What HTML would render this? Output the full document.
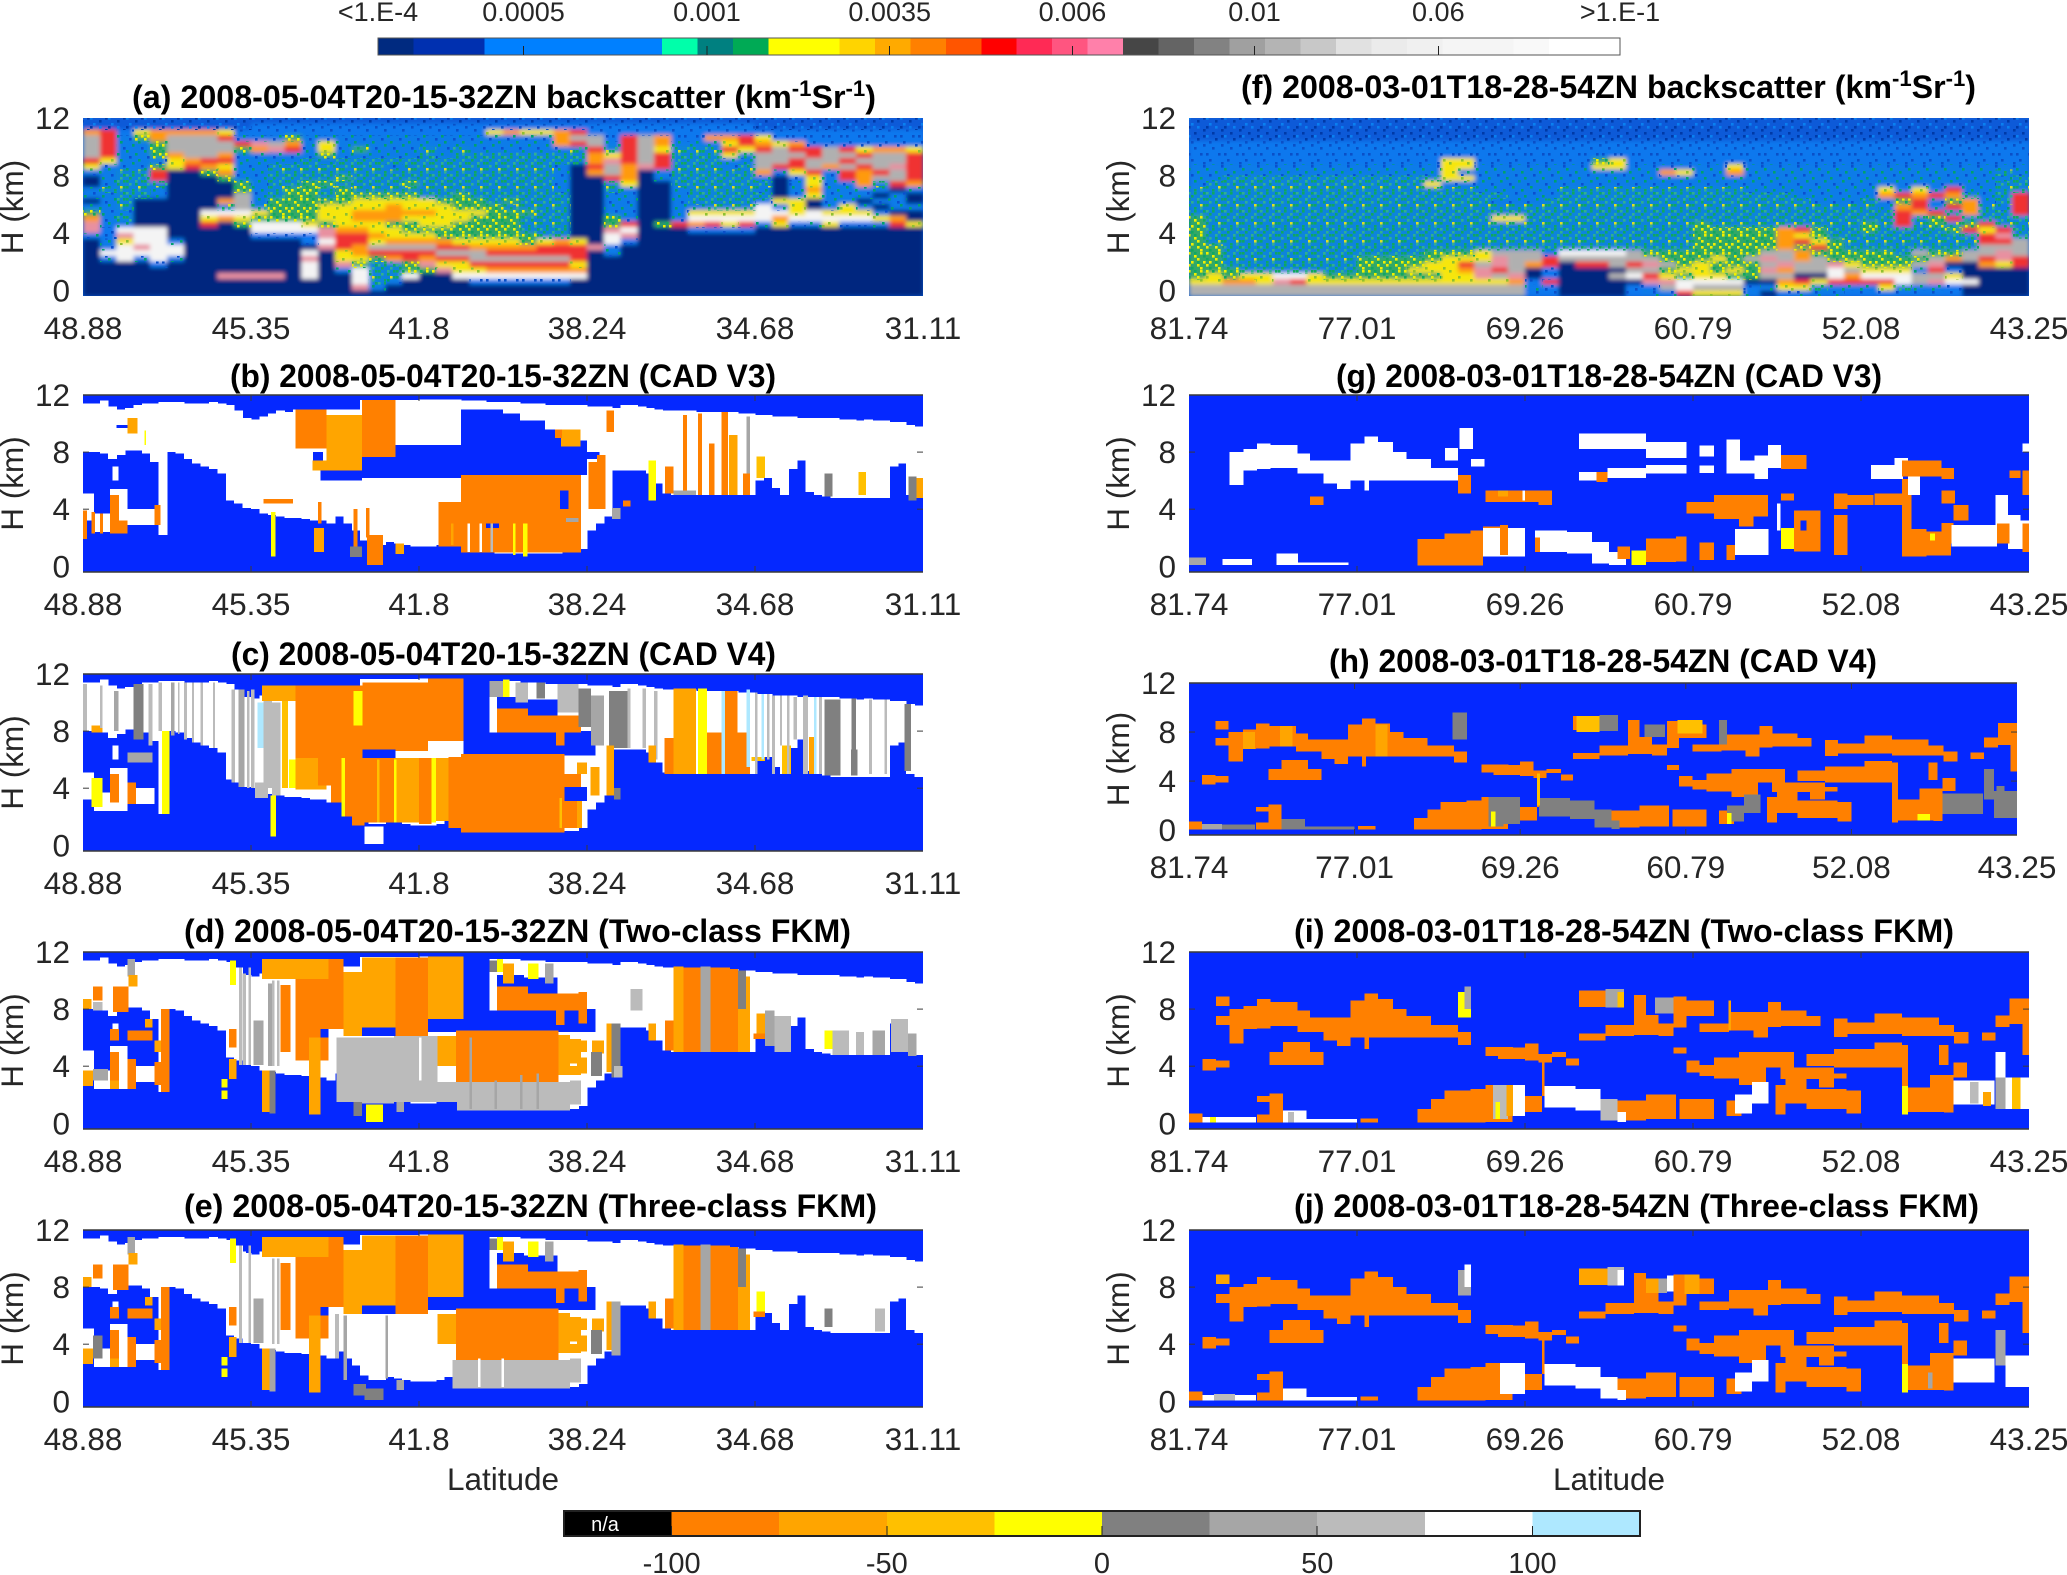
<!DOCTYPE html>
<html lang="en">
<head>
<meta charset="utf-8">
<title>CALIPSO backscatter and cloud-aerosol discrimination panels</title>
<style>
html,body{margin:0;padding:0;background:#fff;}
svg{display:block;font-family:"Liberation Sans",sans-serif;}
.title{font-weight:bold;font-size:32px;fill:#000;}
.tick{font-size:31.5px;fill:#262626;}
.axis{font-size:31.5px;fill:#262626;}
.cb{font-size:27px;fill:#262626;}
.cb2{font-size:29px;fill:#262626;}
</style>
</head>
<body>
<svg id="chart" xmlns="http://www.w3.org/2000/svg" width="2067" height="1575" viewBox="0 0 2067 1575">
<defs id="defs">
<filter id="soft" x="-2%" y="-4%" width="104%" height="108%"><feGaussianBlur stdDeviation="2"/></filter>
</defs>
<rect width="2067" height="1575" fill="#fff"/>
<text class="title" x="132" y="108" textLength="744" lengthAdjust="spacingAndGlyphs">(a) 2008-05-04T20-15-32ZN backscatter (km<tspan font-size="22" dy="-12">-1</tspan><tspan dy="12">Sr</tspan><tspan font-size="22" dy="-12">-1</tspan><tspan dy="12">)</tspan></text>
<text class="title" x="1241" y="98" textLength="735" lengthAdjust="spacingAndGlyphs">(f) 2008-03-01T18-28-54ZN backscatter (km<tspan font-size="22" dy="-12">-1</tspan><tspan dy="12">Sr</tspan><tspan font-size="22" dy="-12">-1</tspan><tspan dy="12">)</tspan></text>
<text class="title" x="230" y="387" textLength="546" lengthAdjust="spacingAndGlyphs">(b) 2008-05-04T20-15-32ZN (CAD V3)</text>
<text class="title" x="231" y="665" textLength="545" lengthAdjust="spacingAndGlyphs">(c) 2008-05-04T20-15-32ZN (CAD V4)</text>
<text class="title" x="184" y="942" textLength="667" lengthAdjust="spacingAndGlyphs">(d) 2008-05-04T20-15-32ZN (Two-class FKM)</text>
<text class="title" x="184" y="1217" textLength="693" lengthAdjust="spacingAndGlyphs">(e) 2008-05-04T20-15-32ZN (Three-class FKM)</text>
<text class="title" x="1336" y="387" textLength="546" lengthAdjust="spacingAndGlyphs">(g) 2008-03-01T18-28-54ZN (CAD V3)</text>
<text class="title" x="1329" y="672" textLength="548" lengthAdjust="spacingAndGlyphs">(h) 2008-03-01T18-28-54ZN (CAD V4)</text>
<text class="title" x="1294" y="942" textLength="660" lengthAdjust="spacingAndGlyphs">(i) 2008-03-01T18-28-54ZN (Two-class FKM)</text>
<text class="title" x="1294" y="1217" textLength="685" lengthAdjust="spacingAndGlyphs">(j) 2008-03-01T18-28-54ZN (Three-class FKM)</text>
<text class="axis" x="503" y="1490" text-anchor="middle">Latitude</text>
<text class="axis" x="1609" y="1490" text-anchor="middle">Latitude</text>
</svg>
<script>
/* ---------- tick labels ---------- */
const leftLatitudes = ['48.88','45.35','41.8','38.24','34.68','31.11'];
const rightLatitudes = ['81.74','77.01','69.26','60.79','52.08','43.25'];
const heightTicks = [0,4,8,12];
const backscatterTickLabels = ['<1.E-4','0.0005','0.001','0.0035','0.006','0.01','0.06','>1.E-1'];
const backscatterTickCells = [0,4.1,9.27,14.42,19.57,24.7,29.88,35];
const backscatterColors = ['#002a80','#0030b0','#0030b0','#0080ff','#0080ff','#0080ff','#0080ff','#0080ff','#00ffaa','#008080','#00aa55','#ffff00','#ffff00','#ffd400','#ffaa00','#ff8000','#ff5500','#ff0000','#ff2a55','#ff5580','#ff80aa','#464646','#646464','#828282','#a0a0a0','#b4b4b4','#c8c8c8','#e1e1e1','#ebebeb','#f0f0f0','#f5f5f5','#f5f5f5','#f9f9f9','#ffffff','#ffffff'];
const cadTicks = [-100,-50,0,50,100];
const cadBins = [-125,-100,-75,-50,-25,0,25,50,75,100];
const cadBinColors = ['#000000','#ff8000','#ffa500','#ffc000','#ffff00','#808080','#a6a6a6','#bbbbbb','#ffffff','#aee8ff'];

/* CAD scores used by the layers (C = clear air, no feature) */
const O=-90,A=-65,B=-35,Y=-10,G=10,H=35,I=65,W=90,L=110,C=null;

/* ---------- left orbit: white feature envelope, km, per 1% of the track ---------- */
const leftCloudTop = [11.4,11.4,11.6,11.2,11,11.1,11.3,11.4,11.4,11.5,11.5,11.5,11.4,11.4,11.4,11.5,11.4,11.3,10.9,10.4,10.3,10.5,10.7,10.9,10.8,11,11,11,11,11,11,11,11,11.65,11.65,11.65,11.65,11.65,11.65,11.65,11.7,11.7,11.7,11.7,11.7,11.6,11.6,11.6,11.5,11.5,11.5,11.5,11.4,11.4,11.4,11.3,11.3,11.3,11.3,11.3,11.2,11.2,11.2,11.1,11.3,11.3,11.2,11.1,11,10.9,10.9,10.9,10.9,10.8,10.8,10.8,10.8,10.8,10.7,10.7,10.6,10.6,10.5,10.5,10.5,10.4,10.4,10.4,10.4,10.4,10.3,10.3,10.2,10.3,10.2,10.2,10.1,10.1,9.9,9.8];
const leftCloudBase = [8,8,7.9,7.5,7.8,8.1,8.1,7.9,7.3,2.2,8,7.9,7.5,7.2,7,6.8,6.5,4.6,4.4,4.1,4,3.7,3.6,3.5,3.4,3.4,3.3,3.2,3.2,3,3.5,3,2.5,1.8,1.5,1.5,1.7,1.6,1.5,1.4,1.4,1.4,1.5,1.7,1.8,2,1.4,1.2,1,0.9,0.9,0.9,0.9,0.9,0.9,0.9,0.9,1,1,1.2,2.5,3,3.5,6.7,6.7,6.7,6.7,6.5,5.8,5.1,5,5,5,5,5,5,5,5,5,5,6,6.2,5.5,5,6.8,7.4,5.2,5,4.9,4.8,4.8,4.8,4.8,4.8,4.8,4.8,7,7.2,5,4.8];
const leftLowCloud = [[0,1.3,3.2,5.1,W],[1.3,3.2,2.4,3.7,W],[3.2,5.3,2.4,5.4,W],[5.3,8.5,2.9,4,W],[3.5,4.2,6,7,W]];

/* layer lists: [track% start, track% end, base km, top km, CAD score] */
const layersB = [
[45,50,6.4,11,C],[50,52,6.4,10.7,C],[52,55,6.4,10.2,C],[55,57,6.4,9.6,C],[57,60,6.4,8.8,C],[60,61.5,7.5,8,C],
[37.2,45,6.2,8.5,C],[33.2,37.2,6.2,7.7,C],[28.3,33.2,6,6.7,C],[27.4,28.6,7,8,C],
[25.3,29,8.25,11,O],[29,33.2,6.7,10.6,A],[27.3,33.2,6.7,7.4,A],[33.2,37.2,7.65,11.65,O],
[45,59.3,0.95,6.4,O],[42.3,45,1.4,4.5,O],[56.8,57.8,4,5.3,C],[48,49.5,2.7,3,C],[57.5,59,3.1,3.4,H],
[45.8,46.1,1,3,W],[47.2,47.5,1,3,W],[48.5,48.8,1,3,I],[51.2,51.5,0.8,3,Y],[52.4,52.9,0.7,3,Y],[43.8,44.1,1.5,3,A],
[60.2,62.2,4,7.3,O],[61.2,62.2,7.3,7.8,O],[62.3,63.2,9.4,10.9,O],[56.9,59.2,8.4,9.6,A],[56.2,57,9,9.6,O],
[64.3,65.2,4.2,4.6,O],[63,64,3.3,4.1,H],[67.3,68.2,4.6,7.4,Y],[69.3,70.3,5.1,7,O],
[71.4,71.9,5,10.6,O],[73.2,73.7,5,10.7,O],[74.5,75.2,5,8.6,O],[76,76.8,5,10.8,O],[76.9,77.9,5,9.2,A],[78.6,79.4,5,6.5,O],[79,79.4,6.5,10.5,H],[70.3,73,5,5.3,H],
[80.2,81.2,6.2,7.7,B],[88.3,89.2,4.9,6.5,G],[92.3,93.2,5,6.6,B],[98.3,99.2,4.6,6.3,G],[99.2,100,4.8,6.2,A],
[5.3,6.5,9.3,10.4,A],[4,5.3,9.7,9.9,C],[7.3,7.5,8.5,9.5,Y],
[3.2,4.3,2.3,5,O],[4.3,5.3,2.3,3.2,O],[0,0.5,1.9,3.9,O],[1,1.4,2.3,3.8,O],[2,2.4,2.3,3.7,O],[8.5,9.2,2.9,4.3,O],
[22.4,22.9,0.7,3.8,Y],[21.5,25,4.4,4.7,O],[27.5,28.7,1,2.7,A],[28,28.4,3,4.5,O],[31.8,33.2,0.65,1.4,G],[33.8,35.7,0.1,2.2,O],[32.2,32.7,1.4,4,O],[33.7,34.1,2,4.1,O],[37.2,38.2,0.85,1.6,A]
];
const layersC = [
[45.3,48.4,6.3,12,C],[48.4,60.5,6.3,7.9,C],[52.5,56.5,9.1,10.2,C],[57.3,61,6.3,8,C],[49.3,52.5,9.6,10.4,C],
[21.3,25.3,10.1,11.2,A],[25.3,33.3,6,11.2,O],[33.3,41.1,6.6,11.4,O],[41.1,45.3,7.3,11.7,O],[32.2,33.3,8.4,10.8,Y],[33.3,37.2,6,6.7,C],
[25.3,29,3.9,6.1,A],[28,29.5,4.2,6.1,O],[29.5,31,3,6.1,O],[31,32,2,6.1,O],[32,33.5,1.4,6.1,O],[33.5,37,1.6,6.1,O],[37,40,1.6,6.1,A],[40,41.5,1.5,6.1,O],[41.5,42,1.6,6.1,Y],
[33.5,35.8,0.1,1.3,W],[30.8,31.2,2,6.1,Y],[35,35.3,1.6,6,B],[37,37.3,1.6,6,Y],
[42,43.5,1.7,6.1,A],[43.5,45,1.2,6.2,O],[45,57.3,0.9,6.4,O],[57.3,59.3,4.1,5,O],[57.3,59.4,1.2,3.1,O],[57.3,60,3.1,4.1,C],[58.8,60,5,5.8,A],[58.8,59.4,1.2,3.1,A],[56.7,57,1.2,3.3,B],
[49.3,53,7.9,9.6,O],[53,59.3,7.9,9.1,O],[56.3,57.3,7,7.9,O],
[48.4,50,10.4,11.5,H],[50,50.8,10.4,11.6,Y],[51.5,53,10,11.4,I],[54,55,10.3,11.4,G],[56.5,59,9.3,11.3,I],[59,60.5,8.3,11,G],[60.5,62,7,10.5,H],
[62.6,64.8,6.8,10.8,G],[64.8,65.2,6.8,11,I],[66.6,67,6.8,11,I],[68,68.4,6,10.8,I],
[70.3,73,5,11,A],[73.2,74.3,5,11,Y],[69.2,70.3,5,7.5,O],[74.3,79.4,5,7.9,O],[76.4,77.9,5,10.8,O],[79,79.4,5.5,10.9,L],[76,76.4,5,10.8,L],[79.6,81.2,5.9,6.2,B],
[88.3,90.2,4.9,10.2,G],[91.4,92.2,4.9,6.7,G],[86.4,87,5,7.6,A],[83.2,84.3,5,7,B],[97.8,98.6,5.2,9.9,G],[67.3,68.2,5.8,7,A],[60.4,61.5,3.5,5.5,A],[62.3,63.2,3.5,7,A],[63.2,64,3.2,4,G],
[80,80.3,5,10.7,I],[80.8,81.1,6,10.6,L],[82,82.4,5,10.5,I],[83.8,84.1,5,10.5,I],[85.7,86.3,5,10.5,I],[87,87.3,5,10.4,L],[91.5,92,6.7,10.3,G],
[81.4,81.7,6,10.6,I],[83,83.2,7,10.5,I],[84.6,85,7.4,10.4,I],[87.6,88,5,10.4,I],[93.6,93.9,5,10.2,I],[95.4,95.7,5,10.2,I],
[9.4,10.3,2.2,8,Y],[1,2.3,2.7,4.7,Y],[3.2,4.3,3,5,O],[5.3,6.3,2.9,4.4,O],[1,2.3,7.9,8.4,A],[5.3,8.3,5.8,6.5,H],[22.3,23,0.6,3.5,Y],
[0,0.5,8,11.3,I],[2,2.3,8.2,11.2,I],[3.7,4.2,8,10.8,H],[6,7.2,7.4,11.3,G],[7.8,8.3,7,11.3,I],[9,9.4,8,11.4,I],[10.5,10.9,7.7,11.4,H],[11.3,11.5,7.8,11.4,I],[12,12.4,7.4,11.4,I],[13,13.2,7.2,11.4,I],[14,14.3,7,11.4,I],[15.5,15.7,6.8,11.4,I],
[18.5,19.2,4.1,10.9,H],[20,20.4,4,10.9,I],[21.5,22.5,4,10.1,I],[20.8,21.5,6.8,10,L],[22.5,23.5,3.5,10,I],[23.7,24.4,4,10.1,B],[24.5,25.3,4,6,Y],[20.5,22,3.3,4.4,I],[17.7,18.1,4.4,10.9,I],[19.5,19.8,4,10.8,I]
];
const fkmShared = [
[45.3,48.4,6.4,12,C],[48.4,60.5,6.4,7.9,C],[52.5,56.5,9.1,10.2,C],[57.3,61,6.4,8,C],[49.3,52.5,9.6,10.4,C],
[21.3,29.2,10.1,11.5,A],[25.3,29.2,4.4,10.1,O],[23.5,24.7,5,9.7,O],[29.2,31,6.6,11.5,O],[31,33.2,6.1,10.6,A],[28.3,29.2,6,6.6,C],
[33.2,37.2,6.7,11.6,A],[33.2,37.2,6.1,6.7,C],[37.2,41.1,6.1,11.6,O],[41.1,45.3,7.3,11.7,A],[41.1,45.3,6.4,7.3,C],
[49.3,53,7.9,9.6,O],[53,59.3,7.9,9.1,O],[56.3,57.3,6.9,7.9,O],
[44.4,56.6,2.8,6.5,O],[56.6,58,3.4,6.2,A],[58,59.3,4.2,5.9,A],[58,59.3,3.4,4,A],[42.2,44.4,4,6.1,A],
[26.9,28.3,0.6,6,A],[21.3,22.2,0.8,3.7,A],[17.4,18.3,3.1,4.5,A],[17.4,18.3,5.3,6.6,O],[17.5,18.2,9.7,11.4,Y],[16.5,17.2,1.7,2.3,Y],[16.5,17.2,2.5,3.1,Y],
[48.4,49.3,10.6,11.4,G],[49.3,50,10.6,11.5,Y],[50,51.3,9.8,11.2,A],[53,54.2,10.1,11.2,Y],[55,56,9.8,11.2,H],[59,60,7,9.2,O],
[70.3,71.5,5,11,A],[71.5,73.5,5,10.9,O],[73.5,74.7,5,11,H],[74.7,77,5,10.9,O],[77,78,5,10.8,O],[78,79.4,5,10.3,A],[78,78.9,8,10.7,G],[69.3,70.3,5.1,7.2,O],[67.3,68.2,5.8,7,A],
[79.8,81.2,5.9,6.3,O],[80.2,81.2,6.3,7.7,A],
[1.2,2.3,8.6,9.6,O],[0,1,8,8.7,A],[3.6,5.4,7.8,9.6,O],[5.3,6.2,10.3,11.5,H],[5.4,6.5,9.6,10.4,A],
[3.2,4.3,5.8,6.6,O],[5.3,8.3,5.8,6.5,O],[7.4,8.3,6.7,7.3,A],[9.3,10.3,2.2,8,O],[8.5,9.3,5,5.8,A],[8.5,9.3,2.7,4.3,O],
[0,1.2,2.6,3.7,A],[3.2,4.3,2.4,5,O],[3.2,4.3,2.4,3,A],[5.3,6.3,2.4,4.5,O],
[60.6,62,4.9,5.8,A],[62.3,63.2,3.6,7,A],[58.8,60,3.5,4.6,A],[58.8,60,5,5.8,A],
[18.6,18.9,4.1,10.9,I],[19.7,20,4.1,10.9,I],[22.5,22.8,4,10,I],[23.1,23.4,4,10,I]
];
const layersD = [
[30.2,33,1.5,6,I],[33,37,1.4,6,I],[37,42.2,1.5,6.1,I],[42.2,44.5,1.5,2.9,I],[44.5,58,0.9,2.9,I],[58,59.3,1.3,3,I],
[46,46.3,1,6,H],[49,49.3,1,3,H],[52,52.3,1,3.4,H],[54,54.3,1,3.5,H],[40,40.3,3,6,W],
[33.7,35.7,0.1,1.3,Y],[37.3,38.2,0.8,1.5,H],[32.2,33.2,0.5,1.5,G],[22.2,22.9,0.7,3.7,G],
[20.3,21.5,4.1,7.2,H],[19,19.4,4.1,10.5,I],[22,22.5,4,9.8,H],[62.9,64,3.2,7,G],[63.2,64.2,3.2,4,I],[60.5,61.8,3.3,5,G],
[65.2,66.6,7.9,9.4,I],[81.2,82.3,5.4,7.9,H],[82.3,84.3,5,7.5,I],[88.3,89.2,5.2,6.5,Y],[89.2,91.2,4.8,6.5,I],[92,93,4.8,6.4,I],[94,95.5,4.8,6.5,H],[96.2,98.2,5,7.3,I],[98.2,99.2,4.7,6.3,H],
[1.2,2.3,7.9,8.5,I],[1.2,3,3,3.8,H]
];
const layersE = [
[44,58,0.9,2.9,I],[58,59.3,1.3,3,I],[33.5,35.8,0.1,0.9,G],[32.2,33.7,0.4,1.2,G],[37.3,38.2,0.8,1.5,H],[22.2,22.9,0.7,3.7,H],
[31,31.4,1.5,6,H],[36,36.3,1.6,6,H],[30,30.5,3,6.1,I],[47,47.3,1,3,W],[49.8,50.1,1,3,W],[20.3,21.5,4.1,7.2,H],[19,19.4,4.1,10.5,W],
[60.5,61.8,3.3,5,G],[62.9,64,3.2,7,H],[65.2,66.6,7.9,9.4,W],[80.2,81.2,6.3,7.7,Y],[88.3,89.2,5.2,6.5,G],[94.3,95.5,4.9,6.5,I],[1.2,2.3,3,4.6,G]
];

/* ---------- right orbit: recurring layers ---------- */
const rightClouds = [
[3.2,4.8,8.2,8.9,O],[3.2,4.8,6.9,7.5,O],[4.8,6.5,5.6,8,O],[6.5,8.1,6.6,8.2,O],[8.1,9.7,6.65,8.7,O],[9.7,12.9,6.8,8.5,O],[12.9,14.4,6.4,7.9,O],[14.4,16,6.4,7.4,O],[16,17.6,5.8,7.4,O],[17.6,19.2,5.4,7.4,O],[19.2,20.9,6,8.6,O],[20.9,22.5,6,9.1,O],[20.9,21.4,5.2,6,O],[22.5,24.3,6,8.7,O],[24.3,25.9,6,8,O],[25.9,28.8,6,7.5,O],[28.8,32,6,6.9,O],[32,33.6,5.5,6.4,O],
[1.6,3.2,3.7,4.5,O],[3.2,4.8,3.9,4.4,O],[9.6,16,4.1,5,O],[11.2,14.4,4.1,5.7,O],
[8.1,9.6,1.5,1.9,O],[9.6,11.2,0.05,2.1,O],[8.1,9.6,0.05,0.6,O],[0,1.6,0.05,0.7,O],[20.4,22.5,0.05,0.35,O],
[27.2,28.8,0.05,1,O],[28.8,30.4,0.05,1.7,O],[30.4,33.5,0.05,2.3,O],[33.5,35.3,0.05,2.4,O],[35.3,38.5,0.1,2.7,O],[40,42,0.8,1.9,O],[42,42.3,1.9,4.4,O],
[35.3,38.6,4.7,5.35,O],[36.8,40,4.5,5.3,O],[40,41.6,4.4,5.6,O],[41.6,43.2,4.25,4.85,O],[43.2,44.9,4.65,5,O],[44.9,46.4,4.05,4.55,O],
[46.4,49.6,5.8,6.3,O],[46.4,49.6,8.15,9.3,O],[49.6,53,6.1,6.9,O],[53,54.4,6.2,9,O],[54.4,55.9,6.2,7.6,O],[55.9,57.7,6.1,7,O],[57.7,59.2,6.7,8.9,O],[59.2,62.5,7.5,8.6,O],
[60.8,64.3,6.4,7,O],[64.3,67.2,6.5,7.8,O],[67.2,68.9,6,7.8,O],[68.9,70.5,6.75,8.5,O],[70.5,73.5,6.8,7.9,O],[73.5,75.2,6.8,7.5,O],[57.7,59.2,4.9,5.3,O],
[59.2,60.8,3.55,4.4,O],[60.8,62.5,3.3,4.1,O],[62.5,65.5,3.15,4.6,O],[65.5,68.7,2.7,5,O],[68.7,70.4,3.9,5,O],[70.4,72,3.9,5,O],
[71,73.5,1.4,3.2,O],[73.5,78.3,1,2.4,O],[78.3,80,0.7,2.3,O],[69.8,71,0.6,2.7,O],[70.4,76.8,3.1,3.9,O],[75,76.8,2.5,3.1,O],[76.8,78.3,3.15,3.5,O],[73.5,80,4,4.85,O],[76.8,84.9,3.9,5.2,O],[81.6,84.9,3.9,5.65,O],
[76.8,78.4,6.05,7.35,O],[78.4,81.6,6.25,7.05,O],[81.6,84.9,6.25,7.7,O],[84.9,89.3,6.1,7.4,O],[89.3,91.1,6.1,6.9,O],[91.1,92.8,5.6,6.4,O],[94.4,96,5.8,6.35,O],[96,97.7,6.75,7.55,O],[97.7,100,6.95,8.75,O],[99.2,100,4.8,7,O],
[84.9,85.6,0.6,5.5,O],[85.6,89.9,0.8,2.5,O],[88.2,89.9,2.5,3.4,O],[89.9,91,0.75,3.4,O],[91,92.6,3.2,4.25,O],[89.3,90.4,4.1,5.5,O],
[51,54.4,0.2,1.6,O],[54.4,58,0.3,2,O],[58.4,62.5,0.3,1.7,O],[64,65.8,0.5,1.6,O]
];
const rightSurface = [[1.6,8,0.05,0.45],[11.2,14,0.05,0.9],[14,20,0.05,0.3],[38,40,0.5,2.7],[42.3,46,1.1,2.6],[46,49,0.9,2.4],[49,51,0.2,1.7],[51,52,0.1,0.8],[65,67,0.7,2],[67,69,1.4,2.9],[91,95.9,1.3,3],[96,97.2,2.5,5],[97.2,100,1,3.2]];

const layersG = [
[4.8,6.5,5.7,8,W],[6.5,8.1,6.7,8.2,W],[8.1,9.7,6.8,8.6,W],[9.7,12.9,6.9,8.5,W],[12.9,14.4,6.5,7.9,W],[14.4,16,6.5,7.4,W],[16,17.6,5.8,7.4,W],[17.6,19.2,5.4,7.4,W],[19.2,20.9,6,8.6,W],[20.9,22.5,6,9.1,W],[20.9,21.4,5.3,6,W],[22.5,24.3,6,8.7,W],[24.3,25.9,6,8,W],[25.9,28.8,6,7.5,W],[28.8,32,6,6.9,W],
[32,33.6,5.1,6.4,O],[14.4,16,4.3,4.9,O],[35.3,43.2,4.5,5.3,O],[36.8,38,4.9,5.3,A],[39.7,40,4.6,5.3,W],[41.6,43.2,4.3,5.1,O],
[32.2,33.8,8.2,9.7,W],[30.5,32,7.4,8.3,W],[33.6,35.2,7,7.5,W],
[46.4,54.4,8.2,9.3,W],[54.4,59.2,7.6,8.7,W],[46.4,48.5,6,6.6,W],[48.5,49.8,5.9,6.6,O],[49.8,54.4,6.2,6.9,W],[54.4,59.2,6.5,7.1,W],
[60.8,62.5,7.7,8.45,W],[60.8,62.5,6.55,7.05,W],[64,65.6,6.5,8.9,W],[65.6,67.3,6.5,7.4,W],[67.3,68.9,6.1,7.75,W],[68.9,70.5,6.9,8.5,W],[70.5,73.5,6.8,7.8,O],
[27.2,28.8,0.05,1.9,O],[28.8,30.4,0.05,1.9,O],[30.4,33.5,0.05,2.3,O],[33.5,35,0.05,2.5,O],[35,37,1,2.8,O],[35,40,0.7,2.7,W],[37,38,0.8,2.9,O],[41.2,45,1,2.5,W],[45,48,0.9,2.4,W],[48,50,0.2,1.7,W],[50,52,0.1,1,W],[41.2,41.8,1,2,O],[51,52.5,0.5,1.4,O],[52.7,54.4,0.1,1.1,Y],[54.4,58,0.3,1.95,O],[58,59.2,0.35,2.1,O],[60.8,62.5,0.45,1.65,O],[64,65,0.45,1.5,O],[65,69,0.8,2.6,W],
[0,2,0.1,0.6,H],[4,7.5,0.1,0.5,W],[10.4,13,0.1,0.9,W],[13,19,0.1,0.25,W],
[59.2,62.5,3.7,4.5,O],[62.5,65.5,3.3,5,O],[65.5,67.2,2.8,5,O],[67.2,68.9,3.5,5,O],[70.5,72,4.6,5.1,O],[70.5,72,1.2,2.7,Y],[72,75.2,1.05,3.9,O],[72.8,73.5,2.5,3.2,C],[70,70.4,2.5,4.4,W],[76.8,78.4,0.8,3.6,O],[76.8,78.4,4,5.1,O],[78.4,81.5,4.3,5,O],[81.6,85,4.3,5.1,O],[84.9,86,0.7,6.1,O],[81.2,85,6.1,7.1,W],[84,85.6,6.5,7.6,W],[85.6,87,5,6.6,W],[84.9,89.6,6.3,7.4,O],[89.6,91.1,6.1,6.9,O],[89.6,91.2,4.4,5.3,O],[91,92.8,3.2,4.3,O],[85.6,87.8,0.7,2.6,O],[87.8,90.7,0.75,2.45,O],[89.6,91,1.6,3.05,O],[90.8,96.2,1.4,2.9,W],[96,97.5,2.8,5,W],[97.5,100,1.2,3.2,W],[96.2,97.7,1.6,3,O],[99.2,100,1,3,O],[99.2,100,5,6.7,O],[97.5,99,3,3.6,W],[99.2,100,8,8.6,W],[97.7,99,6.2,6.7,O],[88.2,88.8,1.8,2.3,Y]
];
const layersHExtra = [[6.5,8,6.6,8,A],[11,12.5,6.8,8.5,A],[22.5,24,6,8.6,A],[46.8,49.6,8,9.3,B],[49.6,51.8,8.1,9.4,G],[55,57.5,7.6,8.6,G],[59,62,7.9,9,B],[31.8,33.6,7.4,9.6,G],[64,65,7,9,G],[36.2,38,0.3,2.7,G],[36.5,37,0.3,1.5,Y],[65,65.5,0.5,1.4,Y],[42,42.4,2,4.6,B],[88,89.5,0.8,1.3,Y],[1.6,4,0.05,0.5,H],[92,93,1.5,3,G],[97.5,98.5,1,3.6,G]];
const layersIExtra = [[49.6,51.8,8.1,9.4,H],[51,51.8,8.1,9.2,B],[55.5,57.7,7.7,8.8,H],[32,33.6,7.4,9.2,Y],[32.8,33.6,8,9.6,H],[36.2,38,0.3,2.7,I],[36.5,37,0.3,1.5,Y],[37.8,38.6,0.5,2.7,A],[2.5,3.2,0.05,0.45,Y],[11.8,12.5,0.05,0.8,I],[84.9,85.6,0.6,2.6,Y],[96,97.2,1,3.2,H],[98,99,1,3.2,B],[93,94,1.4,2.9,I],[94.5,95.5,1.2,2.2,A],[46,48,1.2,2.4,W],[49,51,0.2,1.7,I],[64.2,64.5,6.5,8.6,A]];
const layersJExtra = [[3.2,4.8,8.2,8.9,A],[46.4,50,8.15,9.3,A],[49.8,51.8,8.1,9.4,I],[51,51.8,8.1,9.2,W],[54.4,55.9,7.6,8.6,A],[55.9,56.9,7.6,8.6,H],[56.9,57.7,7.7,8.8,W],[59,60.8,7.5,8.9,A],[32,33.6,7.4,9.2,H],[32.8,33.6,8,9.6,W],[37,38,0.5,2.7,W],[3,5.5,0.05,0.5,I],[96,97.2,2.5,5,H],[84.9,85.6,0.6,2.6,Y],[88,88.5,0.9,2,H]];

/* ---------- attenuated backscatter grids: 50 track columns x 31 height rows, top row first ---------- */
const backscatterCodes = {n:'#00257f',d:'#0a5ad8',b:'#0a78ee',c:'#0a7ce8',g:'#0a84dc',l:'#30a868',y:'#f6e610',o:'#ff9a10',r:'#f03030',p:'#e890a0',k:'#b0b0b0',w:'#f4f4f4'};
const speckleInks = {d:{a:'#003aa8',b:'#0a80f0'},b:{a:'#0a50c8'},c:{a:'#00a070',b:'#0a4fd0'},g:{a:'#10a860',b:'#30b090',c:'#e0e020'},l:{a:'#10a860',c:'#f0f000'},y:{a:'#90c030'}};
const speckleMasks = {
  d:["a..b..",".....a","..a...","b....a","...a..",".b...."],
  b:[".....a","..a...","......","a...a.","......",".a...."],
  c:["..a...",".....b","a.....","...a..",".b....","....a."],
  g:["a..b.a",".b.a..","a...ca","..a.b.","b.a..a",".a..b."],
  l:["c.a.c.","..c..a","a..c..",".c.a.c","c..c..",".a..c."],
  y:["...a..","......","a.....","....a.","......",".a...."]
};
const backscatterRowsA = [
"dddddddddd dddddddddd dddddddddd dddddddddd dddddddddd",
"dddddddddd bbbbbbbbbb bbbbbbbbbb bbbbbbbbbb dddddddddd",
"orbyooooyb bbbbbbbbbb bbbbyoyyor bbbbbbbbbb bbbbbbbbbb",
"krclokkkrc cclccccccc ccccccccok kbrkobboor ybbbbbbbbb",
"krcclkkkkr pkocyccccc ccccccccor kcrkocccyr oyobbbbbbb",
"krcclkkkkl oprcyclccc gcgccccccg rgrkygggry rkrrkryooy",
"krcclokkoc cccclccccc gcgggggggg oyrkrgggyg kkkrkkrkkr",
"ryccbyorrc cccgcggggg gggggggggg oprkrgggcc kkrkkrkkkr",
"yccclyroyc cgggggggcg ggggggggcn rkoprgggcg krrkokrkpr",
"ccggrnnloc cggggggggg ggggggggcn okoncggggg ocyrcrorkr",
"ncggrnnnlc cgggglgggg ggggggggcn nroncggggg cnbycrokkr",
"ncgggnnnnl cggllggggl ggggggggcn ngynnggggg gncyccogro",
"cgggcnnnnl cgllglgggg ggggggggcn ngcnncgggg cncoccccnc",
"ccggcnnnnk cgllglllll gglggggggn nccnncgggg gncycccncn",
"ncgnnnnnok clllllyyyy ylllglgggn nccnncgggg cyynccnccn",
"ccgnnnnngk glllyyyyoy yylllggggn nccnnccggg wcyncycncc",
"lccnnnnwww ylllyyoooo oyyylllggn nccnncyyyy wwywyyycnn",
"ocgnnnnyoy llllyyoooy yyylllgggn nlcnncwwww wowwwwwyon",
"pccnnnnrnl wwwylyyyll yyllllgggn nlrnlroryr cybcybbcry",
"pbwwwnnnnn wwwwpooyyl llllllgggn npwnnnbbbb nnnnnnnnnn",
"cbpwwnnnnn bbbbprroyy yllllllggn nwpnnnnnnn nnnnnnnnnn",
"ncywwcnnnn nnnbwrryoo ooyyyylyoy nwbnnnnnnn nnnnnnnnnn",
"ncwpwwnnnn nnnnprokkk krroooorrr pcnnnnnnnn nnnnnnnnnn",
"nwwwwwnnnn nnnwnyorrr rkkkrrrrrr ncnnnnnnnn nnnnnnnnnn",
"ncwcwcnnnn nnnpnyylor orrkkkkkkr nnnnnnnnnn nnnnnnnnnn",
"nnnnbnnnnn nnnwnplggl pyyrrrrrry nnnnnnnnnn nnnnnnnnnn",
"nnnnnnnnnn nnnwncwggl lpyyoooooo nnnnnnnnnn nnnnnnnnnn",
"nnnnnnnnpp ppnwnnwggw nnwwwwwwww nnnnnnnnnn nnnnnnnnnn",
"nnnnnnnnnn nnnnnnwgcn nnnbbbbbbn nnnnnnnnnn nnnnnnnnnn",
"nnnnnnnnnn nnnnnnpcnn nnnnnnnnnn nnnnnnnnnn nnnnnnnnnn",
"nnnnnnnnnn nnnnnnnnnn nnnnnnnnnn nnnnnnnnnn nnnnnnnnnn"
];
const backscatterRowsF = [
"dddddddddd dddddddddd dddddddddd dddddddddd dddddddddd",
"dddddddddd dddddddddd dddddddddd dddddddddd dddddddddd",
"dddddddddd dddddddddd dddddddddd dddddddddd dddddddddd",
"dddddddddd dddddddddd dddddddddd dddddddddd dddddddddd",
"bbbbbbbbbb bbbbbbbbbb bbbbbbbbbb bbbbbbbbbb bbbbbbbbbb",
"bbbbbbbbbb bbbbbbbbbb bbbbbbbbbb bbbbbbbbbb bbbbbbbbbb",
"bbbbbbbbbb bbbbbbbbbb bbbbbbbbbb bbbbbbbbbb bbbbbbbbbb",
"bbbbbbbbbb bbbbbyybbb bbbblybbbb bbbbbbbbbb bbbbbbbbbb",
"cccccccccc cccccyyccc ccccyycccc ccycccccc ccccccccccc",
"cccccccccc cccccycccc ccccccccoy ccoccccccc ccccccccgc",
"ccgggggggg gggggyyccc cccccccccc cccccccccc cccccccccg",
"cggggggggg ggggyccccc cccccccccc cccccccccc ccccccccgg",
"gggggggggg gggggggccc ccgggggggg gggccccccc cycycrccgg",
"gggggggggg gggggggggc ccgggggggg ggggggcccc cororogcgr",
"gggggggggg ggggggggcc cggggggggg gggggggccc gclrclocgr",
"gggggggggg gggggggggg gggggggggg gggggggggg gcorcrogcr",
"gggggggggg gggggggggg gggggggggg gggggggggg ggrorgoggr",
"lggggggggg ggggggggyy gggggggggg gggggggggg ggrglrgggg",
"lggggggggg gggggggggg gggggggggg lggggggggg lgrglglrgg",
"lggggggggg gggggggggg gggggggggg lllllorlgg lgggglryrg",
"lggggggggg gggggggggg gggggggggg llllloylgg gggggggrpg",
"lggggggggg gggggggggg gggggggggg lllllorylg gggggggrrk",
"llgggggggg gggggggggg gggggggggg lllllolrlg gggggggkkk",
"llgggggggg gggglllykk kcwwwwklll llllkkolll llgkllkkpk",
"llgggggggg lllllyyypk krkkkkkkll lylkpkokll llllkokrpr",
"llgggggggg llllyyrkpk ornrrkrpkl ylllkpkkpy lllkpnnoyr",
"lllggggggg lllyyyoprk nbnnnnkkly ylylpokkwk yyycrbnnnn",
"lylyywwyll lllllyypkp nbnnnkwryl yyllkknnwo wwwkkynnnn",
"yyooypryyy yyyyyyyyyo brnnnnnppw wwwnnoryrr rrwkpwwnnn",
"kkkkkkkkkk kkkkkkkkkk cbnnnnbbkw kkkbcyygcc cygccbnnnn",
"kkkkkkkkkk kkkkkkkkkk bbnnnnbccr yyycnbcccb bbbbbbnnnn"
];

/* ---------- helpers ---------- */
const NS = 'http://www.w3.org/2000/svg';
const svg = document.getElementById('chart');
const defs = document.getElementById('defs');

function make(tag, parent, attrs) {
  const node = document.createElementNS(NS, tag);
  for (const key in attrs) node.setAttribute(key, attrs[key]);
  parent.appendChild(node);
  return node;
}
for (const code in speckleMasks) {
  const tile = make('pattern', defs, {id: 'sp-' + code, width: 18, height: 18, patternUnits: 'userSpaceOnUse'});
  speckleMasks[code].forEach((row, r) => {
    [...row].forEach((ch, c) => {
      if (ch !== '.') make('rect', tile, {x: c * 3, y: r * 3, width: 2.6, height: 2.6, fill: speckleInks[code][ch]});
    });
  });
}
function cadColor(score) {
  if (score === null) return '#0528ff';
  let index = 0;
  cadBins.forEach((edge, i) => { if (score >= edge) index = i; });
  return cadBinColors[index];
}
function recolor(list, score) {
  return list.map(r => [r[0], r[1], r[2], r[3], score]);
}

function drawPanel(cfg) {
  const group = make('g', svg, {});
  
  
  const xScale = p => cfg.left + p / 100 * cfg.width;
  const yScale = h => cfg.top + (12 - h) / 12.4 * cfg.height;

  const clipId = 'clip-' + cfg.id;
  const clip = make('clipPath', group, {id: clipId});
  make('rect', clip, {x: cfg.left, y: cfg.top, width: cfg.width, height: cfg.height});
  const plot = make('g', group, {'clip-path': 'url(#' + clipId + ')'});
  
  

  if (cfg.grid) {
    const base = make('rect', plot, {x: cfg.left, y: cfg.top, width: cfg.width, height: cfg.height, fill: '#0a60d8'});
    
    
    const soft = make('g', plot, {filter: 'url(#soft)', 'shape-rendering': 'crispEdges'});
    const grain = make('g', plot, {'shape-rendering': 'crispEdges'});
    cfg.grid.forEach((row, r) => {
      const codes = row.replace(/ /g, '');
      [...codes].forEach((code, c) => {
        const x0 = xScale(c * 2), x1 = xScale((c + 1) * 2);
        const y0 = yScale(12 - r * 0.4), y1 = yScale(12 - (r + 1) * 0.4);
        const cell = make('rect', soft, {x: x0, y: y0, width: x1 - x0 + 0.5, height: y1 - y0 + 0.5, fill: backscatterCodes[code]});
        
        
        if (speckleMasks[code]) {
          const speck = make('rect', grain, {x: x0, y: y0, width: x1 - x0 + 0.5, height: y1 - y0 + 0.5, fill: 'url(#sp-' + code + ')'});
          
          
        }
      });
    });
  } else {
    const crisp = make('g', plot, {'shape-rendering': 'crispEdges'});
    const bg = make('rect', crisp, {x: cfg.left, y: cfg.top, width: cfg.width, height: cfg.height, fill: cadColor(null)});
    
    
    if (cfg.top_env) {
      cfg.top_env.forEach((top, i) => {
        const x0 = xScale(i), x1 = xScale(i + 1);
        const y0 = yScale(top), y1 = yScale(cfg.base_env[i]);
        const col = make('rect', crisp, {x: x0, y: y0, width: x1 - x0 + 0.5, height: y1 - y0, fill: '#fff'});
        
        
      });
    }
    cfg.layers.forEach(layer => {
      const x0 = xScale(layer[0]), x1 = xScale(layer[1]);
      const y0 = yScale(layer[3]), y1 = yScale(layer[2]);
      const rect = make('rect', crisp, {x: x0, y: y0, width: x1 - x0, height: y1 - y0, fill: cadColor(layer[4])});
      
      
    });
  }

  const axisColor = '#3a3a3a';
  if (!cfg.grid) {
    [cfg.top, cfg.top + cfg.height].forEach(y => {
      const line = make('line', group, {x1: cfg.left, x2: cfg.left + cfg.width, y1: y, y2: y, stroke: axisColor, 'stroke-width': 1.6});
      
      
    });
  }
  cfg.xLabels.forEach((label, i) => {
    const x = xScale(i * 20);
    if (!cfg.grid && i > 0 && i < 5) {
      const t1 = make('line', group, {x1: x, x2: x, y1: cfg.top, y2: cfg.top + 6, stroke: axisColor, 'stroke-width': 1});
      
      
      const t2 = make('line', group, {x1: x, x2: x, y1: cfg.top + cfg.height, y2: cfg.top + cfg.height - 6, stroke: axisColor, 'stroke-width': 1});
      
      
    }
    const text = make('text', group, {class: 'tick', x: x, y: cfg.top + cfg.height + 43, 'text-anchor': 'middle'});
    
    
    text.textContent = label;
  });
  heightTicks.forEach(h => {
    const y = yScale(h);
    if (!cfg.grid && h > 0 && h < 12) {
      [[cfg.left, cfg.left + 6], [cfg.left + cfg.width, cfg.left + cfg.width - 6]].forEach(p => {
        const t = make('line', group, {x1: p[0], x2: p[1], y1: y, y2: y, stroke: axisColor, 'stroke-width': 1});
        
        
      });
    }
    const text = make('text', group, {class: 'tick', x: cfg.left - 13, y: y + 11, 'text-anchor': 'end'});
    
    
    text.textContent = String(h);
  });
  const mid = cfg.top + cfg.height / 2;
  const yTitleX = cfg.left - 60;
  const yTitle = make('text', group, {class: 'axis', x: yTitleX, y: mid, 'text-anchor': 'middle', transform: 'rotate(-90 ' + yTitleX + ' ' + mid + ')'});
  
  
  yTitle.textContent = 'H (km)';
}

const L0 = {left: 83, width: 840, xLabels: leftLatitudes};
const R0 = {left: 1189, width: 840, xLabels: rightLatitudes};
const leftEnv = {top_env: leftCloudTop, base_env: leftCloudBase};
const panels = [
  {id: 'a', ...L0, top: 118, height: 178, grid: backscatterRowsA},
  {id: 'b', ...L0, top: 395, height: 177, ...leftEnv, layers: leftLowCloud.concat(layersB)},
  {id: 'c', ...L0, top: 674, height: 177, ...leftEnv, layers: leftLowCloud.concat(layersC)},
  {id: 'd', ...L0, top: 952, height: 177, ...leftEnv, layers: leftLowCloud.concat(fkmShared, layersD)},
  {id: 'e', ...L0, top: 1230, height: 177, ...leftEnv, layers: leftLowCloud.concat(fkmShared, layersE)},
  {id: 'f', ...R0, top: 118, height: 178, grid: backscatterRowsF},
  {id: 'g', ...R0, top: 395, height: 177, layers: layersG},
  {id: 'h', ...R0, width: 828, top: 683, height: 152, layers: rightClouds.concat(recolor(rightSurface, G), layersHExtra)},
  {id: 'i', ...R0, top: 952, height: 177, layers: rightClouds.concat(recolor(rightSurface, W), layersIExtra)},
  {id: 'j', ...R0, top: 1230, height: 177, layers: rightClouds.concat(recolor(rightSurface, W), layersJExtra)}
];
panels.forEach(drawPanel);

/* ---------- top colour bar ---------- */
(function () {
  const g = make('g', svg, {'shape-rendering': 'crispEdges'});
  
  
  const left = 378, right = 1620, top = 38, bottom = 55;
  const cell = (right - left) / backscatterColors.length;
  const cbx = c => left + c * cell;
  backscatterColors.forEach((color, i) => {
    const r = make('rect', g, {x: cbx(i), y: top, width: cell + 0.5, height: bottom - top, fill: color});
    
    
  });
  const frame = make('rect', g, {x: left, y: top, width: right - left, height: bottom - top, fill: 'none', stroke: '#555', 'stroke-width': 1});
  
  
  backscatterTickLabels.forEach((label, i) => {
    const x = cbx(backscatterTickCells[i]);
    if (i > 0 && i < 7) {
      const t = make('line', g, {x1: x, x2: x, y1: bottom, y2: bottom - 9, stroke: '#222', 'stroke-width': 1});
      
      
    }
    const text = make('text', svg, {class: 'cb', x: x, y: 21, 'text-anchor': 'middle'});
    
    
    text.textContent = label;
  });
})();

/* ---------- bottom colour bar ---------- */
(function () {
  const g = make('g', svg, {'shape-rendering': 'crispEdges'});
  
  
  const left = 564, right = 1640, top = 1511, bottom = 1536;
  const sx = v => left + (v + 125) / 250 * (right - left);
  cadBins.forEach((edge, i) => {
    const r = make('rect', g, {x: sx(edge), y: top, width: sx(edge + 25) - sx(edge) + 0.5, height: bottom - top, fill: cadBinColors[i]});
    
    
  });
  const frame = make('rect', g, {x: left, y: top, width: right - left, height: bottom - top, fill: 'none', stroke: '#222', 'stroke-width': 2});
  
  
  cadTicks.forEach(v => {
    const x = sx(v);
    const t = make('line', g, {x1: x, x2: x, y1: bottom, y2: bottom - 10, stroke: '#222', 'stroke-width': 1});
    
    
    const text = make('text', svg, {class: 'cb2', x: x, y: 1573, 'text-anchor': 'middle'});
    
    
    text.textContent = String(v);
  });
  const na = make('text', svg, {x: 605, y: 1531, 'text-anchor': 'middle', fill: '#fff', 'font-size': 20});
  
  
  na.textContent = 'n/a';
})();
</script>
</body>
</html>
